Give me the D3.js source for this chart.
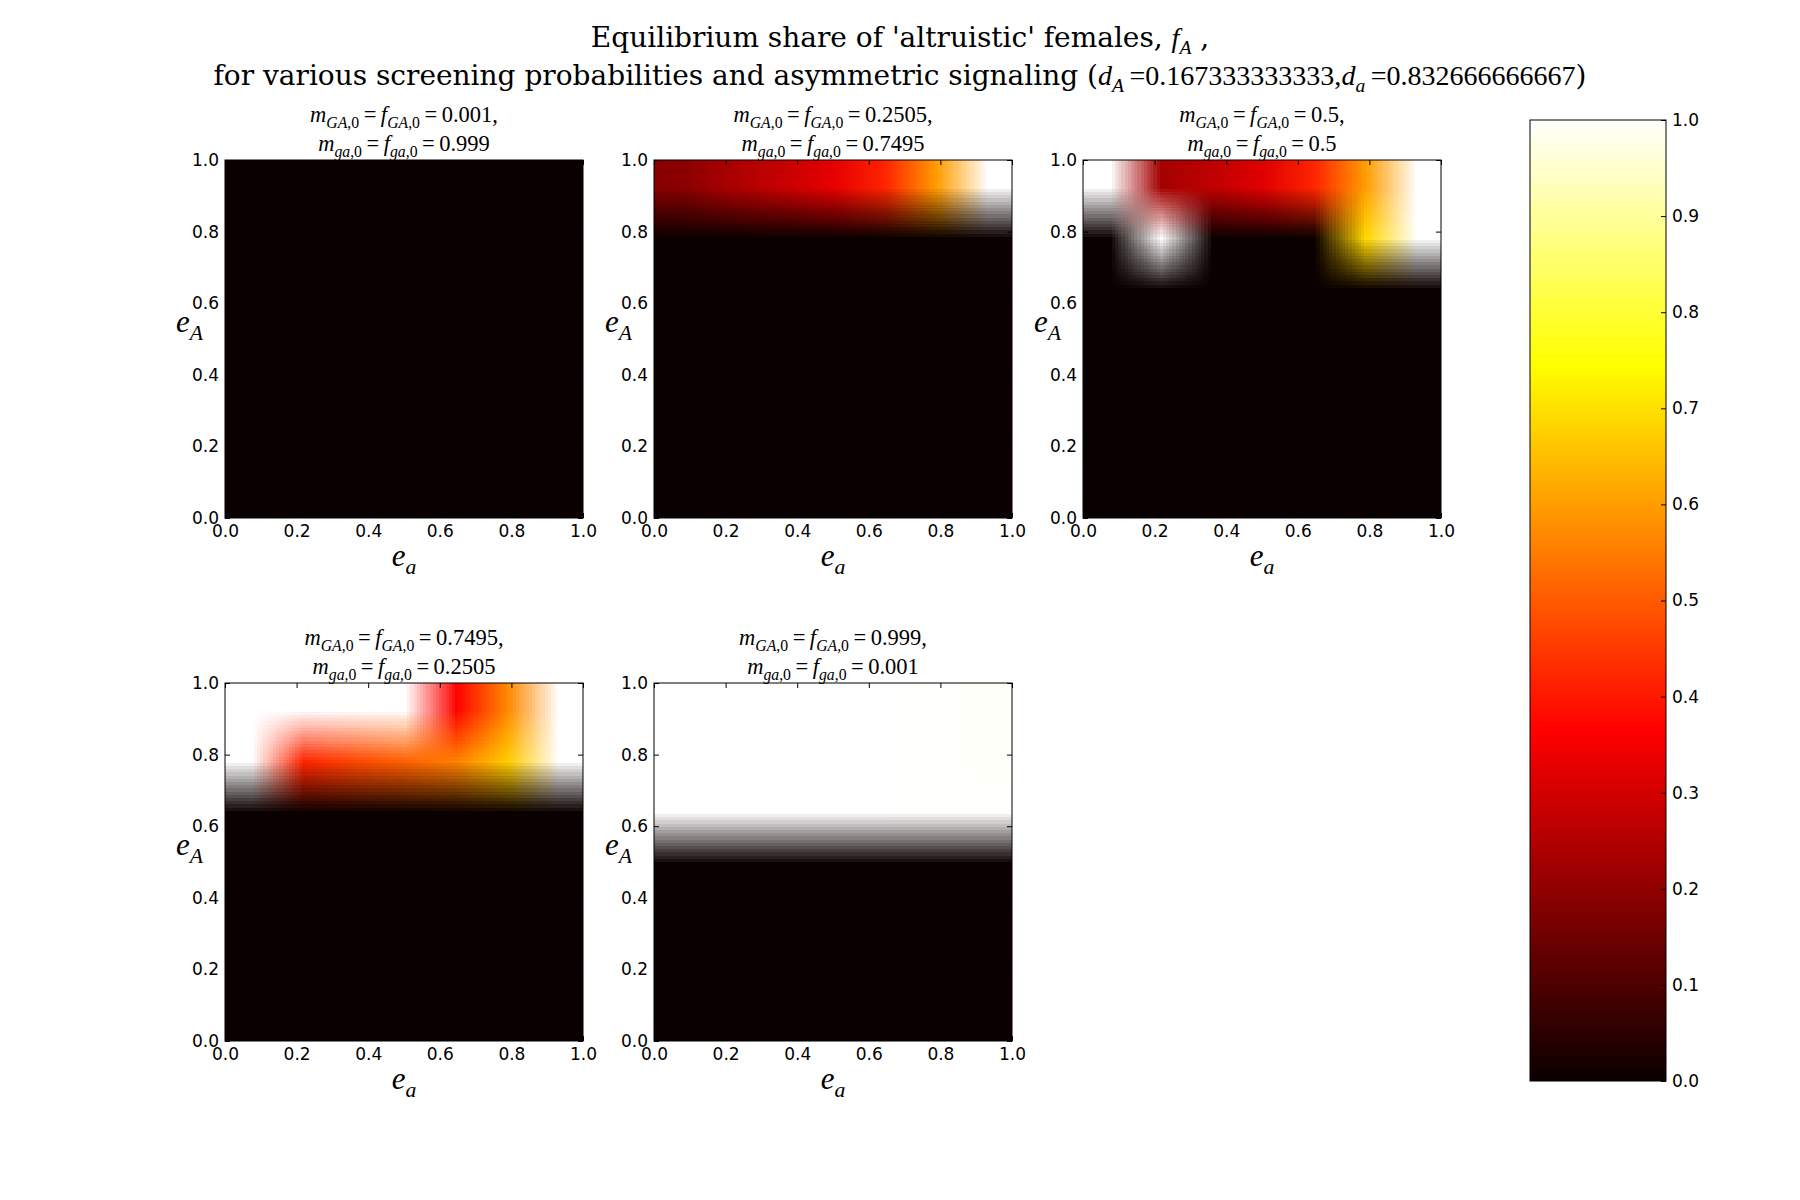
<!DOCTYPE html>
<html>
<head>
<meta charset="utf-8">
<style>
  body { margin: 0; background: #fff; }
  svg { display: block; }
  .tick text { font-family: "DejaVu Sans", sans-serif; font-size: 17px; fill: #000; }
</style>
</head>
<body>
<svg id="fig" width="1800" height="1200"></svg>
<script src="https://cdnjs.cloudflare.com/ajax/libs/d3/7.8.5/d3.min.js"></script>
<script>
// ---- data ----
// axis ticks
var eTicks = [0.0, 0.2, 0.4, 0.6, 0.8, 1.0];
var cbTicks = [0.0, 0.1, 0.2, 0.3, 0.4, 0.5, 0.6, 0.7, 0.8, 0.9, 1.0];

// initial shares shown in the panel titles
var shareGA = ["0.001", "0.2505", "0.5", "0.7495", "0.999"];
var shareGa = ["0.999", "0.7495", "0.5", "0.2505", "0.001"];

// equilibrium f_A on a 7x7 grid of (e_a, e_A)
// rows go from the highest e_A (top) down to the lowest, columns from e_a = 0 to 1
var fA_001 = [
  [0, 0, 0, 0, 0, 0, 0],
  [0, 0, 0, 0, 0, 0, 0],
  [0, 0, 0, 0, 0, 0, 0],
  [0, 0, 0, 0, 0, 0, 0],
  [0, 0, 0, 0, 0, 0, 0],
  [0, 0, 0, 0, 0, 0, 0],
  [0, 0, 0, 0, 0, 0, 0]
];
var fA_2505 = [
  [0.19, 0.24, 0.28, 0.33, 0.42, 0.60, 1.0],
  [0, 0, 0, 0, 0, 0, 0],
  [0, 0, 0, 0, 0, 0, 0],
  [0, 0, 0, 0, 0, 0, 0],
  [0, 0, 0, 0, 0, 0, 0],
  [0, 0, 0, 0, 0, 0, 0],
  [0, 0, 0, 0, 0, 0, 0]
];
var fA_5 = [
  [1.0, 0.23, 0.27, 0.32, 0.42, 0.60, 1.0],
  [0, 1.0, 0, 0, 0, 0.69, 1.0],
  [0, 0, 0, 0, 0, 0, 0],
  [0, 0, 0, 0, 0, 0, 0],
  [0, 0, 0, 0, 0, 0, 0],
  [0, 0, 0, 0, 0, 0, 0],
  [0, 0, 0, 0, 0, 0, 0]
];
var fA_7495 = [
  [1.0, 1.0, 1.0, 1.0, 0.37, 0.57, 1.0],
  [1.0, 0.42, 0.47, 0.51, 0.56, 0.67, 1.0],
  [0, 0, 0, 0, 0, 0, 0],
  [0, 0, 0, 0, 0, 0, 0],
  [0, 0, 0, 0, 0, 0, 0],
  [0, 0, 0, 0, 0, 0, 0],
  [0, 0, 0, 0, 0, 0, 0]
];
var fA_999 = [
  [1.0, 1.0, 1.0, 1.0, 1.0, 0.997, 0.995],
  [1.0, 1.0, 1.0, 1.0, 1.0, 0.997, 0.995],
  [1.0, 1.0, 1.0, 1.0, 1.0, 0.997, 0.997],
  [0, 0, 0, 0, 0, 0, 0],
  [0, 0, 0, 0, 0, 0, 0],
  [0, 0, 0, 0, 0, 0, 0],
  [0, 0, 0, 0, 0, 0, 0]
];
var grids = [fA_001, fA_2505, fA_5, fA_7495, fA_999];

// ---- layout ----
var svg = d3.select("#fig");
var size = 358;
var colX = [225, 654, 1083];
var rowY = [160, 683];
var mathFont = '"Liberation Serif", "DejaVu Serif", serif';
var titleFont = '"DejaVu Serif", serif';

// matplotlib "hot"
var hot = d3.scaleLinear()
  .domain([0, 0.365079, 0.746032, 1])
  .range(["rgb(11,0,0)", "rgb(255,0,0)", "rgb(255,255,0)", "rgb(255,255,255)"])
  .clamp(true);

svg.append("rect").attr("width", 1800).attr("height", 1200).attr("fill", "#fff");

// text made of pieces: t = title serif, r = math roman, i = math italic, si/sr = subscript
function richText(sel, x, y, parts, fs, anchor) {
  var t = sel.append("text")
    .attr("x", x).attr("y", y)
    .attr("text-anchor", anchor || "middle")
    .style("font-size", fs + "px")
    .attr("fill", "#000");
  var shift = 0;
  parts.forEach(function(p) {
    var kind = p[1];
    var sub = kind === "si" || kind === "sr";
    var target = sub ? Math.round(fs * 0.25) : 0;
    t.append("tspan").text(p[0])
      .attr("dy", target - shift)
      .style("font-family", kind === "t" ? titleFont : mathFont)
      .style("font-style", (kind === "i" || kind === "si") ? "italic" : "normal")
      .style("font-size", (sub ? fs * 0.7 : fs) + "px");
    shift = target;
  });
  return t;
}

// main title
richText(svg, 900, 47, [
  ["Equilibrium share of 'altruistic' females, ", "t"],
  ["f", "i"], ["A", "si"], [" ,", "t"]
], 28);
richText(svg, 900, 85, [
  ["for various screening probabilities and asymmetric signaling (", "t"],
  ["d", "i"], ["A", "si"], ["\u2009=0.167333333333,", "r"],
  ["d", "i"], ["a", "si"], ["\u2009=0.832666666667", "r"],
  [")", "t"]
], 28);

grids.forEach(function(grid, k) {
  var x0 = colX[k % 3], y0 = rowY[Math.floor(k / 3)];
  var x = d3.scaleLinear().domain([0, 1]).range([x0, x0 + size]);
  var y = d3.scaleLinear().domain([0, 1]).range([y0 + size, y0]);
  var g = svg.append("g");

  // image: one pixel per grid cell, smoothed by the browser like imshow(interpolation='bilinear')
  var n = grid.length, m = grid[0].length;
  var small = document.createElement("canvas");
  small.width = m; small.height = n;
  var sctx = small.getContext("2d");
  var img = sctx.createImageData(m, n);
  grid.forEach(function(row, i) {
    row.forEach(function(v, j) {
      var c = d3.rgb(hot(v)), o = (i * m + j) * 4;
      img.data[o] = c.r; img.data[o + 1] = c.g; img.data[o + 2] = c.b; img.data[o + 3] = 255;
    });
  });
  sctx.putImageData(img, 0, 0);
  var w = x(1) - x(0), h = y(0) - y(1);
  var big = document.createElement("canvas");
  big.width = w; big.height = h;
  var bctx = big.getContext("2d");
  bctx.imageSmoothingEnabled = true;
  bctx.imageSmoothingQuality = "low";
  bctx.drawImage(small, 0, 0, w, h);
  g.append("image")
    .attr("x", x(0)).attr("y", y(1))
    .attr("width", w).attr("height", h)
    .attr("preserveAspectRatio", "none")
    .attr("href", big.toDataURL());

  // axes, ticks pointing inwards on all four sides
  var ax = [
    [d3.axisBottom(x).tickFormat(d3.format(".1f")).tickPadding(7), "translate(0," + (y0 + size) + ")"],
    [d3.axisTop(x).tickFormat(""), "translate(0," + y0 + ")"],
    [d3.axisLeft(y).tickFormat(d3.format(".1f")).tickPadding(6), "translate(" + x0 + ",0)"],
    [d3.axisRight(y).tickFormat(""), "translate(" + (x0 + size) + ",0)"]
  ];
  ax.forEach(function(a) {
    var sel = g.append("g").attr("transform", a[1])
      .call(a[0].tickValues(eTicks).tickSizeInner(-5).tickSizeOuter(0));
    sel.select(".domain").remove();
    sel.attr("font-family", null).attr("font-size", null);
    sel.selectAll(".tick line").attr("stroke", "#000");
  });

  g.append("rect")
    .attr("x", x(0)).attr("y", y(1))
    .attr("width", w).attr("height", h)
    .attr("fill", "none").attr("stroke", "#000").attr("stroke-width", 1);

  // axis labels
  richText(g, (x(0) + x(1)) / 2, y(0) + 48, [["e", "i"], ["a", "si"]], 31);
  richText(g, x0 - 22, (y(0) + y(1)) / 2 - 7, [["e", "i"], ["A", "si"]], 31, "end");

  // panel title
  richText(g, (x(0) + x(1)) / 2, y0 - 38, [
    ["m", "i"], ["GA", "si"], [",0", "sr"], ["\u2009=\u2009", "r"],
    ["f", "i"], ["GA", "si"], [",0", "sr"], ["\u2009=\u2009" + shareGA[k] + ",", "r"]
  ], 22.5);
  richText(g, (x(0) + x(1)) / 2, y0 - 9, [
    ["m", "i"], ["ga", "si"], [",0", "sr"], ["\u2009=\u2009", "r"],
    ["f", "i"], ["ga", "si"], [",0", "sr"], ["\u2009=\u2009" + shareGa[k], "r"]
  ], 22.5);
});

// colour bar
var cbX = 1530, cbW = 136, cbTop = 120, cbBot = 1081;
var cb = d3.scaleLinear().domain([0, 1]).range([cbBot, cbTop]);
var grad = svg.append("defs").append("linearGradient")
  .attr("id", "hotGrad").attr("x1", 0).attr("y1", 1).attr("x2", 0).attr("y2", 0);
hot.domain().forEach(function(d) {
  grad.append("stop").attr("offset", d).attr("stop-color", hot(d));
});
svg.append("rect")
  .attr("x", cbX).attr("y", cb(1))
  .attr("width", cbW).attr("height", cb(0) - cb(1))
  .attr("fill", "url(#hotGrad)");
var cbAxis = svg.append("g").attr("transform", "translate(" + (cbX + cbW) + ",0)")
  .call(d3.axisRight(cb).tickValues(cbTicks).tickFormat(d3.format(".1f"))
    .tickSizeInner(-5).tickSizeOuter(0).tickPadding(6));
cbAxis.select(".domain").remove();
cbAxis.attr("font-family", null).attr("font-size", null);
cbAxis.selectAll(".tick line").attr("stroke", "#000");
svg.append("rect")
  .attr("x", cbX).attr("y", cb(1))
  .attr("width", cbW).attr("height", cb(0) - cb(1))
  .attr("fill", "none").attr("stroke", "#000").attr("stroke-width", 1);
</script>
</body>
</html>
